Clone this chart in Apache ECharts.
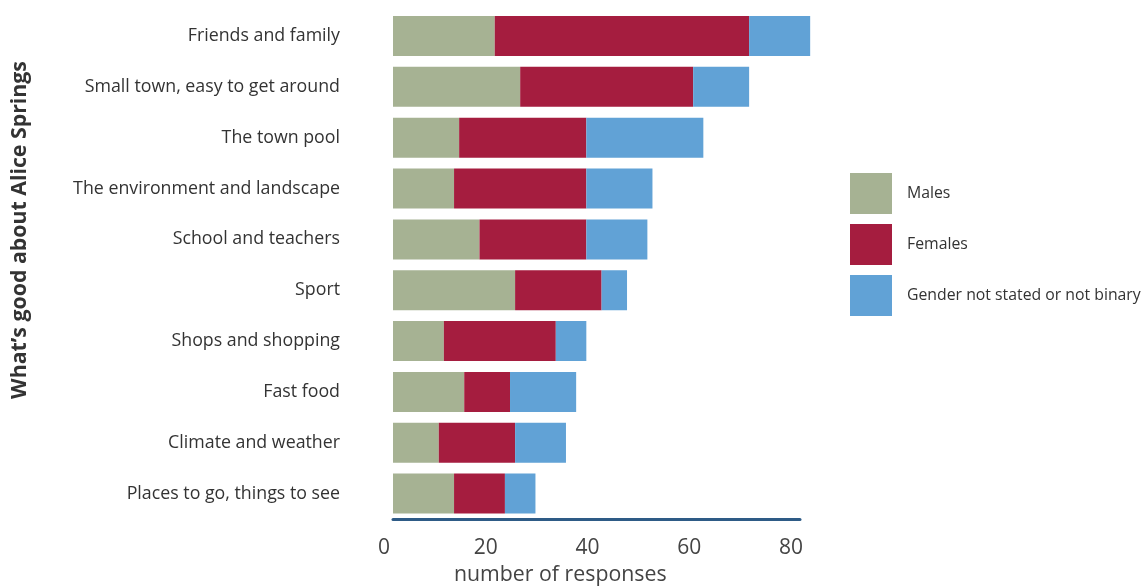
<!DOCTYPE html>
<html>
<head>
<meta charset="utf-8">
<script src="https://cdn.jsdelivr.net/npm/echarts@6/dist/echarts.min.js"></script>
<style>
html,body{margin:0;padding:0;background:#fff;}
#chart{width:1146px;height:588px;}
</style>
</head>
<body>
<div id="chart"></div>
<script>
const categories = [
  "Friends and family",
  "Small town, easy to get around",
  "The town pool",
  "The environment and landscape",
  "School and teachers",
  "Sport",
  "Shops and shopping",
  "Fast food",
  "Climate and weather",
  "Places to go, things to see"
];
const males   = [20, 25, 13, 12, 17, 24, 10, 14, 9, 12];
const females = [50, 34, 25, 26, 21, 17, 22, 9, 15, 10];
const notStated = [12, 11, 23, 13, 12, 5, 6, 13, 10, 6];
const xTicks = [0, 20, 40, 60, 80];

const FONT = "Open Sans";
const chart = echarts.init(document.getElementById('chart'));
const mk = (name, data, color) => ({
  name, type: 'bar', stack: 'total', data, barWidth: 40, clip: false,
  itemStyle: { color }, emphasis: { disabled: true }
});
chart.setOption({
  animation: false,
  textStyle: { fontFamily: FONT },
  grid: { left: 393, right: 346, top: 10.6, bottom: 69, containLabel: false },
  xAxis: {
    type: 'value', min: xTicks[0], max: xTicks[xTicks.length - 1], interval: 20,
    axisLine: { show: true, lineStyle: { color: '#2e5b86', width: 3 } },
    axisTick: { show: false },
    splitLine: { show: false },
    axisLabel: { fontSize: 21, color: '#444', margin: 19, fontFamily: FONT,
                 padding: [0, 18, 0, 0] }
  },
  yAxis: {
    type: 'category', data: categories, inverse: true,
    axisLine: { show: false }, axisTick: { show: false },
    axisLabel: { fontSize: 17.8, color: '#333', margin: 53, fontFamily: FONT }
  },
  legend: {
    orient: 'vertical', left: 845, top: 168,
    itemWidth: 42, itemHeight: 41, itemGap: 10,
    icon: 'rect',
    textStyle: { fontSize: 15.8, color: '#333', fontFamily: FONT, padding: [0, 0, 0, 10] },
    data: ['Males', 'Females', 'Gender not stated or not binary']
  },
  graphic: [
    { type: 'text', left: 454, top: 564,
      style: { text: 'number of responses', fontSize: 21.3, fill: '#444', fontFamily: FONT } },
    { type: 'text', x: 20, y: 230, rotation: Math.PI / 2,
      style: { text: "What\u2019s good about Alice Springs", fontSize: 21.3, fontWeight: 'bold',
               fill: '#333', fontFamily: FONT, align: 'center', verticalAlign: 'middle' } }
  ],
  series: [
    mk('Males', males, '#a6b293'),
    mk('Females', females, '#a51d3f'),
    mk('Gender not stated or not binary', notStated, '#61a2d6')
  ]
});
</script>
</body>
</html>
